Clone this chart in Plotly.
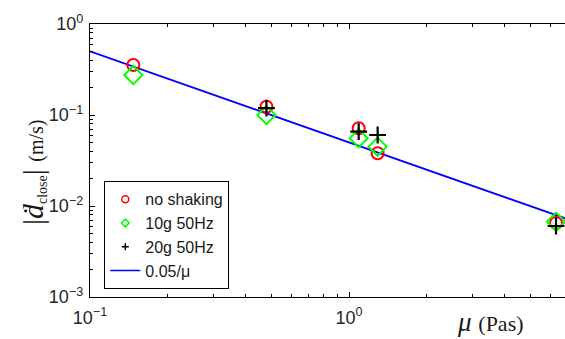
import numpy as np
import plotly.graph_objects as go

# data
mu = [0.147, 0.48, 1.09, 1.29, 6.3]
no_shaking = [0.355, 0.123, 0.0714, 0.038, 0.0065]
g10_50hz = [0.275, 0.100, 0.0555, 0.0449, 0.00673]
g20_50hz = [None, 0.119, 0.0655, 0.0603, 0.00603]
mu_line = [0.1, 7.0]
fit_line = [0.05 / m for m in mu_line]

x_major = [0.1, 1]
x_major_text = ["10<sup>\u22121</sup>", "10<sup>0</sup>"]
y_major = [1e-3, 1e-2, 1e-1, 1]
y_major_text = ["10<sup>\u22123</sup>", "10<sup>\u22122</sup>", "10<sup>\u22121</sup>", "10<sup>0</sup>"]
x_minor = [k * 10.0 ** d for d in (-1, 0) for k in range(2, 10)]
y_minor = [k * 10.0 ** d for d in (-3, -2, -1) for k in range(2, 10)]

W, H = 565, 339
L, R, T, B = 90, 0, 24, 42

fig = go.Figure()
fig.add_trace(go.Scatter(x=mu_line, y=fit_line, mode="lines",
                         line=dict(color="#0000ff", width=1.8), showlegend=False))
fig.add_trace(go.Scatter(x=mu, y=no_shaking, mode="markers", showlegend=False,
                         marker=dict(symbol="circle-open", size=12, color="#ff0000",
                                     line=dict(width=2, color="#ff0000"))))
fig.add_trace(go.Scatter(x=mu, y=g10_50hz, mode="markers", showlegend=False,
                         marker=dict(symbol="diamond-open", size=14, color="#00ff00",
                                     line=dict(width=2, color="#00ff00"))))
fig.add_trace(go.Scatter(x=mu, y=g20_50hz, mode="markers", showlegend=False,
                         marker=dict(symbol="cross-thin-open", size=12, color="#000000",
                                     line=dict(width=2.2, color="#000000"))))

# legend entries
fig.add_trace(go.Scatter(x=[None], y=[None], mode="markers", name="no shaking",
                         marker=dict(symbol="circle-open", size=7, color="#ff0000",
                                     line=dict(width=1.5, color="#ff0000"))))
fig.add_trace(go.Scatter(x=[None], y=[None], mode="markers", name="10g 50Hz",
                         marker=dict(symbol="diamond-open", size=6, color="#00ff00",
                                     line=dict(width=1.5, color="#00ff00"))))
fig.add_trace(go.Scatter(x=[None], y=[None], mode="markers", name="20g 50Hz",
                         marker=dict(symbol="cross-thin-open", size=5, color="#000000",
                                     line=dict(width=1.5, color="#000000"))))
fig.add_trace(go.Scatter(x=[None], y=[None], mode="lines", name="0.05/\u03bc",
                         line=dict(color="#0000ff", width=1.5)))

tickfont = dict(family="Liberation Sans", size=18, color="#262626")
xr = [-1, -1 + (W - L) / 259.0]
fig.update_xaxes(type="log", range=xr, tickmode="array", tickvals=x_major, ticktext=x_major_text,
                 ticks="inside", ticklen=5, tickwidth=1, tickcolor="#000",
                 showline=True, linecolor="#000", linewidth=1.3, mirror="ticks",
                 showgrid=False, zeroline=False, tickfont=tickfont, ticklabelstandoff=4,
                 minor=dict(tickvals=x_minor, ticks="inside", ticklen=3, tickcolor="#000", showgrid=False))
fig.update_yaxes(type="log", range=[-3, 0], tickmode="array", tickvals=y_major, ticktext=y_major_text,
                 ticks="inside", ticklen=5, tickwidth=1, tickcolor="#000",
                 showline=True, linecolor="#000", linewidth=1.3, mirror=False,
                 showgrid=False, zeroline=False, tickfont=tickfont, ticklabelstandoff=2,
                 minor=dict(tickvals=y_minor, ticks="inside", ticklen=3, tickcolor="#000", showgrid=False))

fig.add_annotation(xref="paper", yref="paper", x=(490 - L) / (W - L - R), y=(H - B - 322) / (H - T - B),
                   text="<i>\u03bc</i> <span style='font-size:22px'>(Pas)</span>", showarrow=False,
                   font=dict(family="Liberation Serif", size=27, color="#1a1a1a"),
                   xanchor="center", yanchor="middle")
fig.add_annotation(xref="paper", yref="paper", x=(33 - L) / (W - L - R), y=(H - B - 172) / (H - T - B),
                   text="|<i>d\u0307</i><span style='font-size:20px'><sub>close</sub></span>| <span style='font-size:20px'>(m/s)</span>",
                   showarrow=False, textangle=-90,
                   font=dict(family="Liberation Serif", size=30, color="#1a1a1a"),
                   xanchor="center", yanchor="middle")

fig.update_layout(
    width=W, height=H, margin=dict(l=L, r=R, t=T, b=B),
    paper_bgcolor="white", plot_bgcolor="white",
    legend=dict(x=(104 - L) / (W - L - R), y=(H - B - 181) / (H - T - B), xanchor="left", yanchor="top",
                bordercolor="#000", borderwidth=1.3, bgcolor="white",
                font=dict(family="Liberation Sans", size=16, color="#1a1a1a"),
                itemwidth=30, tracegroupgap=0),
)
fig.write_html("out.html")
